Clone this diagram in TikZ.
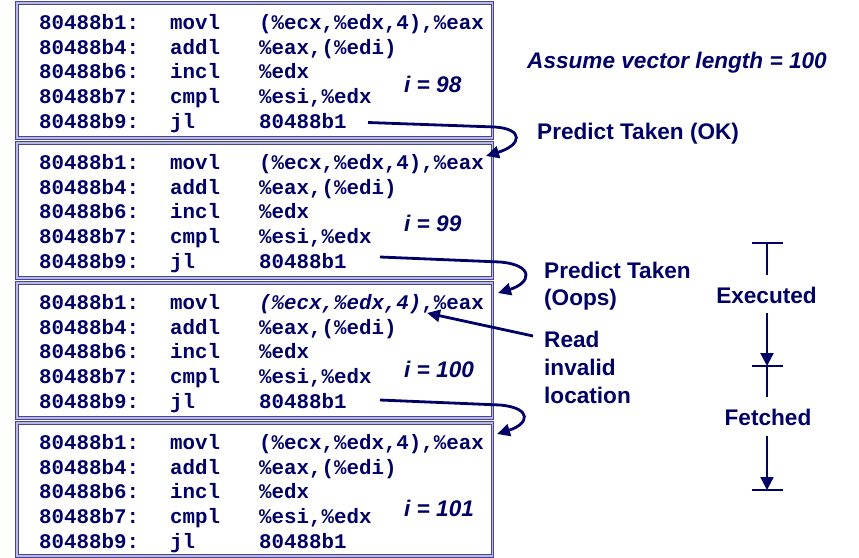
\documentclass[tikz,border=0pt]{standalone}
\usepackage{fontspec}
\setmainfont{Liberation Sans}
\newfontfamily\codefont{Liberation Mono}
\usetikzlibrary{arrows.meta}
\definecolor{navy}{RGB}{0,0,102}
\definecolor{boxc}{RGB}{70,70,145}
\definecolor{boxlight}{RGB}{185,185,225}
\tikzset{
  codebox/.style={draw=boxc, double=boxlight, double distance=1.5pt, line width=1.1pt},
  code/.style={anchor=base west, inner sep=0pt, text=navy,
    font=\codefont\bfseries\fontsize{20.8}{25}\selectfont},
  lbl/.style={anchor=base west, inner sep=0pt, text=navy,
    font=\bfseries\fontsize{22.6}{28}\selectfont},
  ilbl/.style={lbl, font=\bfseries\itshape\fontsize{22.6}{28}\selectfont},
  link/.style={draw=navy, line width=2.8pt, -{Triangle[length=13pt,width=12pt]}},
  tl/.style={draw=navy, line width=2.2pt},
  tlarrow/.style={tl, -{Triangle[length=13pt,width=13pt]}},
}
\begin{document}
\begin{tikzpicture}[x=1pt,y=-1pt]
\useasboundingbox (0,0) rectangle (859,557);
% boxes
\foreach \k/\bot in {0/138,1/278,2/418,3/556}{
  \draw[codebox] (17,3+140*\k) rectangle (492.5,\bot);
}
% code lines
\foreach \k in {0,1,2,3}{
  \foreach \l/\a/\m/\o in {0/80488b1:/movl/{(\%ecx,\%edx,4),\%eax},
                           1/80488b4:/addl/{\%eax,(\%edi)},
                           2/80488b6:/incl/{\%edx},
                           3/80488b7:/cmpl/{\%esi,\%edx},
                           4/80488b9:/jl/{80488b1}}{
    \node[code] (a\k\l) at (39,29.3+140*\k+24.75*\l) {\a};
    \node[code] (m\k\l) at (170,29.3+140*\k+24.75*\l) {\m};
    \ifnum\k=2 \ifnum\l=0
      \node[code] (o\k\l) at (259,29.3+140*\k+24.75*\l) {\textit{(\%ecx,\%edx,4)},\%eax};
    \else
      \node[code] (o\k\l) at (259,29.3+140*\k+24.75*\l) {\o};
    \fi\else
      \node[code] (o\k\l) at (259,29.3+140*\k+24.75*\l) {\o};
    \fi
  }
}
% iteration labels
\node[ilbl] (i98)  at (404,92.7)  {i = 98};
\node[ilbl] (i99)  at (404,231.7) {i = 99};
\node[ilbl] (i100) at (404,377)   {i = 100};
\node[ilbl] (i101) at (404,516.7) {i = 101};
% right labels
\node[ilbl] (assume) at (527,68.5) {Assume vector length = 100};
\node[lbl] (pt1) at (537,139) {Predict Taken (OK)};
\node[lbl] (pt2a) at (544,278) {Predict Taken};
\node[lbl] (pt2b) at (544,305) {(Oops)};
\node[lbl] (rd1) at (544,347) {Read};
\node[lbl] (rd2) at (544,375) {invalid};
\node[lbl] (rd3) at (544,403) {location};
% curved jumps
\coordinate (s1) at (368,122.5); \coordinate (e1) at (486,156);
\coordinate (s2) at (380,257);   \coordinate (e2) at (498,293);
\coordinate (s3) at (380,400);   \coordinate (e3) at (497,434);
\draw[link] (s1) -- (495,127) .. controls (524,129) and (522,145) .. (e1);
\draw[link] (s2) -- (500,262) .. controls (535,265) and (531,283) .. (e2);
\draw[link] (s3) -- (500,405) .. controls (533,408) and (529,424) .. (e3);
% read invalid arrow
\coordinate (rs) at (533,336); \coordinate (re) at (427,313);
\draw[link] (rs) -- (re);
% timeline
\node[lbl, anchor=base] (exec) at (766.5,303) {Executed};
\node[lbl, anchor=base] (fetch) at (768,425) {Fetched};
\coordinate (t0) at (767,243);
\coordinate (t1) at (767,366);
\coordinate (t2) at (767,490);
\draw[tl] ([xshift=-15.5]t0) -- ([xshift=15.5]t0);
\draw[tl] (t0) -- (767,275);
\draw[tlarrow] (767,313) -- (t1);
\draw[tl] ([xshift=-15.5]t1) -- ([xshift=15.5]t1);
\draw[tl] (t1) -- (767,397);
\draw[tlarrow] (767,436) -- (t2);
\draw[tl] ([xshift=-15.5]t2) -- ([xshift=15.5]t2);
\end{tikzpicture}
\end{document}
